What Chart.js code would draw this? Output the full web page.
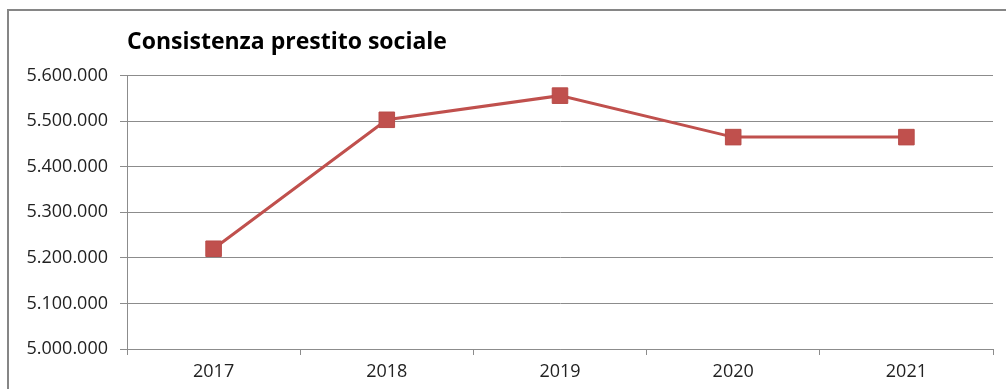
<!DOCTYPE html>
<html>
<head>
<meta charset="utf-8">
<script src="https://cdn.jsdelivr.net/npm/chart.js@4/dist/chart.umd.min.js"></script>
<style>
  html, body { margin: 0; padding: 0; background: #fff; }
  #wrap { position: relative; width: 1006px; height: 389px; }
</style>
</head>
<body>
<div id="wrap"><canvas id="myChart"></canvas></div>
<script>
const years = ['2017', '2018', '2019', '2020', '2021'];
const prestito = [5220000, 5503000, 5556000, 5465000, 5465000];
const yMin = 5000000;
const yMax = 5600000;
const yStep = 100000;

// numero con punto come separatore delle migliaia
function fmt(v) {
    return String(v).replace(/\B(?=(\d{3})+(?!\d))/g, '.');
}

// cornice grigia del grafico (lato sinistro e superiore)
const cornice = {
    id: 'cornice',
    beforeDraw(chart) {
        const c = chart.ctx;
        c.save();
        c.strokeStyle = '#868686';
        c.lineWidth = 2;
        c.beginPath();
        c.moveTo(8, 389);
        c.lineTo(8, 10);
        c.lineTo(1006, 10);
        c.stroke();
        c.restore();
    }
};

const ctx = document.getElementById('myChart');

const myChart = new Chart(ctx, {
    type: 'line',
    data: {
        labels: years,
        datasets: [{
            label: 'Consistenza prestito sociale',
            data: prestito,
            borderColor: '#C0504D',
            backgroundColor: '#C0504D',
            borderWidth: 3,
            pointStyle: 'rect',
            pointRadius: 11,
            pointBorderWidth: 1,
            pointBackgroundColor: '#C0504D',
            pointBorderColor: '#B84C49',
            tension: 0
        }]
    },
    options: {
        responsive: true,
        maintainAspectRatio: false,
        animation: false,
        layout: { padding: { left: 0, right: 13, top: 0, bottom: 0 } },
        plugins: {
            legend: { display: false },
            tooltip: { enabled: false },
            title: {
                display: true,
                text: 'Consistenza prestito sociale',
                align: 'start',
                fullSize: false,
                color: '#000',
                font: { family: '"Open Sans"', size: 23, weight: 'bold', lineHeight: 1.2 },
                padding: { top: 29, bottom: 19 }
            }
        },
        scales: {
            x: {
                offset: true,
                grid: {
                    offset: true,
                    drawOnChartArea: false,
                    drawTicks: true,
                    tickLength: 6,
                    color: '#8c8c8c'
                },
                border: { color: '#8c8c8c', width: 1 },
                ticks: {
                    color: '#222',
                    padding: 6,
                    font: { family: '"Open Sans"', size: 18 }
                },
                afterFit(scale) { scale.height = 40; }
            },
            y: {
                min: yMin,
                max: yMax,
                grid: {
                    color: '#8c8c8c',
                    tickLength: 7,
                    drawTicks: true
                },
                border: { color: '#8c8c8c', width: 1 },
                ticks: {
                    stepSize: yStep,
                    color: '#222',
                    padding: 12,
                    font: { family: '"Open Sans"', size: 18 },
                    callback: (v) => fmt(v)
                },
                afterFit(scale) { scale.width = 127; }
            }
        }
    },
    plugins: [cornice]
});
</script>
</body>
</html>
